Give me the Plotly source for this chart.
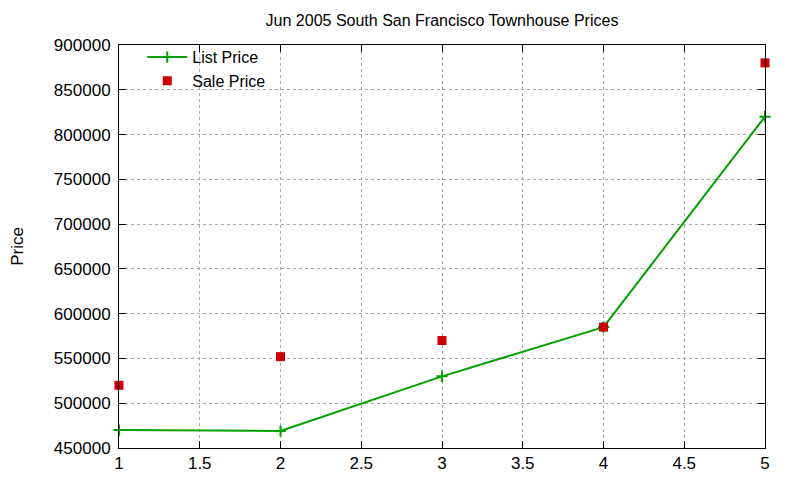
import plotly.graph_objects as go

# townhouse prices, june 2005
months = [1, 2, 3, 4, 5]
listPrice = [470000, 469000, 530000, 585000, 820000]
salePrice = [520000, 552000, 570000, 585000, 880000]

FONT = "Liberation Sans, Arial, sans-serif"

fig = go.Figure()
fig.add_trace(go.Scatter(x=months, y=listPrice, name='List Price', mode='lines+markers',
                         line=dict(color='#00a000', width=2),
                         marker=dict(symbol='cross-thin', size=8,
                                     line=dict(color='#00a000', width=2)),
                         cliponaxis=False))
fig.add_trace(go.Scatter(x=months, y=salePrice, name='Sale Price', mode='markers',
                         marker=dict(symbol='square', size=9, color='#cc0000'),
                         cliponaxis=False))

axisStyle = dict(showline=True, linecolor='black', linewidth=1, mirror='ticks',
                 ticks='inside', ticklen=7, tickcolor='black', automargin=False,
                 showgrid=True, gridcolor='#a8a8a8', griddash='dot', gridwidth=1,
                 zeroline=False, tickfont=dict(family=FONT, size=17, color='black'))

fig.update_xaxes(range=[1, 5], dtick=0.5, **axisStyle)
fig.update_yaxes(range=[450000, 900000], dtick=50000, tickformat='d',
                 ticklabelstandoff=4,
                 title=dict(text='Price', font=dict(family=FONT, size=17, color='black'),
                            standoff=39),
                 **axisStyle)

# page body adds 8px, margins compensate
fig.update_layout(
    width=800, height=480,
    margin=dict(l=111, r=43, t=37, b=40),
    paper_bgcolor='white', plot_bgcolor='white',
    font=dict(family=FONT, color='black'),
    title=dict(text='Jun 2005 South San Francisco Townhouse Prices',
               x=0.5, xref='paper', y=0.975, yref='container', yanchor='middle',
               font=dict(family=FONT, size=16, color='black')),
    legend=dict(x=0.036, y=1.012, xanchor='left', yanchor='top',
                bgcolor='rgba(0,0,0,0)', font=dict(family=FONT, size=16),
                tracegroupgap=0, itemwidth=40),
    showlegend=True,
)

fig.write_html("out.html")
